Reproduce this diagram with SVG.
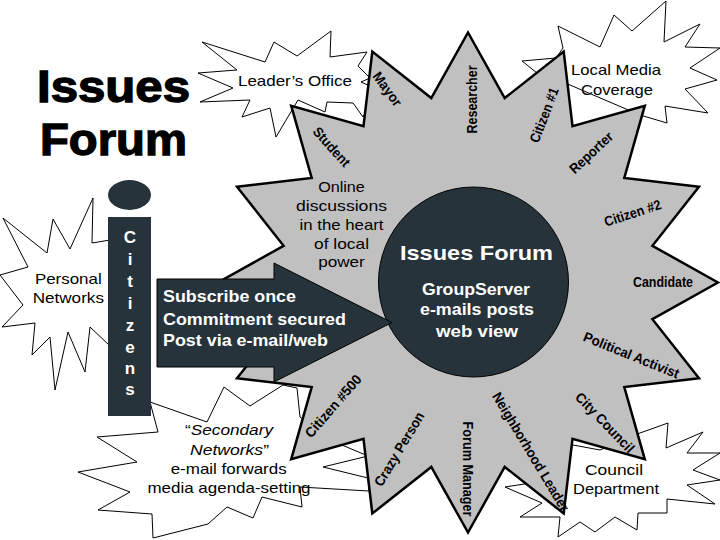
<svg xmlns="http://www.w3.org/2000/svg" width="720" height="540" viewBox="0 0 720 540">
<style>
.burst{fill:#fff;stroke:#000;stroke-width:1;stroke-linejoin:miter}
.star{fill:#c0c0c0;stroke:#000;stroke-width:2.5;stroke-linejoin:miter}
.dark{fill:#27333a;stroke:#000;stroke-width:1}
.t{font-family:"Liberation Sans",Arial,sans-serif;fill:#000}
.reg{font-size:15px;text-anchor:middle}
.lbl{font-size:14px;font-weight:bold;text-anchor:middle}
.wb{font-weight:bold;fill:#fff}
</style>
<rect width="720" height="540" fill="#fff"/>

<g id="title">
<text class="t" x="37" y="102" font-size="44" font-weight="bold" stroke="#000" stroke-width="1.3" textLength="153" lengthAdjust="spacingAndGlyphs">Issues</text>
<text class="t" x="40" y="155" font-size="44" font-weight="bold" stroke="#000" stroke-width="1.3" textLength="147" lengthAdjust="spacingAndGlyphs">Forum</text>
</g>

<g id="leaders-office">
<polygon class="burst" points="202,42 265,62 274,42 297,56 331,31 330,57 367,52 358,66 370,78 361,82 370,86 372,100 363,117 353,103 327,102 325,112 298,100 276,137 270,108 242,117 250,100 200,102 233,88 198,73 237,70"/>
<text class="t reg" x="295" y="86" textLength="114" lengthAdjust="spacingAndGlyphs">Leader’s Office</text>
</g>

<g id="local-media">
<polygon class="burst" points="558,26 600,47 614,15 632,31 666,1 664,42 700,24 685,47 720,48 690,68 717,80 685,89 708,113 665,106 667,123 640,115 570,85 537,73 522,61 556,58 563,48"/>
<text class="t reg" x="616" y="75" textLength="90" lengthAdjust="spacingAndGlyphs">Local Media</text>
<text class="t reg" x="617" y="94.5" textLength="72" lengthAdjust="spacingAndGlyphs">Coverage</text>
</g>

<g id="personal-networks">
<polygon class="burst" points="3,218 47,253 53,219 70,249 93,198 92,243 110,240 110,346 90,327 85,372 68,332 55,390 50,337 32,355 35,323 2,327 23,305 0,275 28,267"/>
<text class="t reg" x="68.3" y="284" textLength="66.7" lengthAdjust="spacingAndGlyphs">Personal</text>
<text class="t reg" x="68.3" y="303" textLength="71.3" lengthAdjust="spacingAndGlyphs">Networks</text>
</g>

<g id="secondary-networks">
<polygon class="burst" points="150,402 207,422 224,387 250,406 283,385 297,388 300,417 330,440 368,456 323,467 368,478 369,491 300,487 302,507 262,497 253,518 227,507 208,524 153,538 152,514 98,510 130,492 78,472 137,462 97,437 158,432"/>
</g>

<g id="council-department">
<polygon class="burst" points="640,433 668,423 666,448 703,432 687,453 720,453 693,470 720,480 687,485 715,504 667,499 667,513 638,513 637,530 615,517 595,532 580,522 558,537 560,517 520,517 542,503 505,487 550,480 573,445 600,450"/>
</g>

<g id="star">
<polygon class="star" points="468,32.5 504.7,98.1 563.7,51.5 572.5,126.2 644.8,105.7 624.3,178 699,186.8 652.4,245.8 718,282.5 652.4,319.2 699,378.2 624.3,387 644.8,459.3 572.5,438.8 563.7,513.5 504.7,466.9 468,532.5 431.3,466.9 372.3,513.5 363.5,438.8 291.2,459.3 311.7,387 237,378.2 283.6,319.2 218,282.5 283.6,245.8 237,186.8 311.7,178 291.2,105.7 363.5,126.2 372.3,51.5 431.3,98.1"/>
</g>

<g id="star-labels">
<text class="t lbl" transform="translate(331.7,146.7) rotate(48)" y="5" textLength="48" lengthAdjust="spacingAndGlyphs">Student</text>
<text class="t lbl" transform="translate(387.5,89) rotate(54)" y="5" textLength="39" lengthAdjust="spacingAndGlyphs">Mayor</text>
<text class="t lbl" transform="translate(471.5,99.5) rotate(-90)" y="5" textLength="68" lengthAdjust="spacingAndGlyphs">Researcher</text>
<text class="t lbl" transform="translate(544,115) rotate(-69)" y="5" textLength="58" lengthAdjust="spacingAndGlyphs">Citizen #1</text>
<text class="t lbl" transform="translate(591,152.5) rotate(-43)" y="5" textLength="54" lengthAdjust="spacingAndGlyphs">Reporter</text>
<text class="t lbl" transform="translate(632.5,213) rotate(-18)" y="5" textLength="59" lengthAdjust="spacingAndGlyphs">Citizen #2</text>
<text class="t lbl" x="663" y="287" textLength="60" lengthAdjust="spacingAndGlyphs">Candidate</text>
<text class="t lbl" transform="translate(631.5,355) rotate(22)" y="5" textLength="102" lengthAdjust="spacingAndGlyphs">Political Activist</text>
<text class="t lbl" transform="translate(605,422.5) rotate(46)" y="5" textLength="78" lengthAdjust="spacingAndGlyphs">City Council</text>
<text class="t lbl" transform="translate(531,451.7) rotate(59)" y="5" textLength="136" lengthAdjust="spacingAndGlyphs">Neighborhood Leader</text>
<text class="t lbl" transform="translate(467.5,469) rotate(90)" y="5" textLength="95" lengthAdjust="spacingAndGlyphs">Forum Manager</text>
<text class="t lbl" transform="translate(399,449) rotate(-59)" y="5" textLength="84" lengthAdjust="spacingAndGlyphs">Crazy Person</text>
<text class="t lbl" transform="translate(333,406) rotate(-49)" y="5" textLength="78" lengthAdjust="spacingAndGlyphs">Citizen #500</text>
</g>

<g id="online-discussions">
<text class="t reg" x="341.5" y="191.7" textLength="46.7" lengthAdjust="spacingAndGlyphs">Online</text>
<text class="t reg" x="341.5" y="210.7" textLength="91" lengthAdjust="spacingAndGlyphs">discussions</text>
<text class="t reg" x="341.5" y="230" textLength="84" lengthAdjust="spacingAndGlyphs">in the heart</text>
<text class="t reg" x="341.5" y="249.3" textLength="55" lengthAdjust="spacingAndGlyphs">of local</text>
<text class="t reg" x="341.5" y="267" textLength="46.7" lengthAdjust="spacingAndGlyphs">power</text>
</g>

<g id="issues-forum">
<circle class="dark" cx="473.5" cy="282" r="95"/>
<text class="t wb" x="476.5" y="260" font-size="21" text-anchor="middle" textLength="153" lengthAdjust="spacingAndGlyphs">Issues Forum</text>
<text class="t wb" x="476" y="294.5" font-size="16" text-anchor="middle" textLength="108" lengthAdjust="spacingAndGlyphs">GroupServer</text>
<text class="t wb" x="477" y="315" font-size="16" text-anchor="middle" textLength="114" lengthAdjust="spacingAndGlyphs">e-mails posts</text>
<text class="t wb" x="477" y="336.5" font-size="16" text-anchor="middle" textLength="82" lengthAdjust="spacingAndGlyphs">web view</text>
</g>

<g id="connectors">
<polygon class="dark" points="157,279 274,279 274,263 392,322.5 274,382 274,367 157,367"/>
<text class="t wb" x="163" y="302" font-size="17" textLength="133" lengthAdjust="spacingAndGlyphs">Subscribe once</text>
<text class="t wb" x="163" y="325" font-size="17" textLength="183" lengthAdjust="spacingAndGlyphs">Commitment secured</text>
<text class="t wb" x="163" y="346" font-size="17" textLength="165" lengthAdjust="spacingAndGlyphs">Post via e-mail/web</text>
</g>

<g id="citizens">
<ellipse cx="129.5" cy="195" rx="21.5" ry="15" fill="#27333a"/>
<rect x="108" y="217" width="43" height="199" fill="#27333a"/>
<g class="t wb" font-size="17" text-anchor="middle">
<text x="130" y="243">C</text>
<text x="130" y="265">i</text>
<text x="130" y="287">t</text>
<text x="130" y="309">i</text>
<text x="130" y="331">z</text>
<text x="130" y="353">e</text>
<text x="130" y="374">n</text>
<text x="130" y="395">s</text>
</g>
</g>

<g id="secondary-text">
<text class="t reg" x="229" y="435" textLength="88" lengthAdjust="spacingAndGlyphs">“<tspan font-style="italic">Secondary</tspan></text>
<text class="t reg" x="229.5" y="454.5" textLength="79" lengthAdjust="spacingAndGlyphs"><tspan font-style="italic">Networks</tspan>”</text>
<text class="t reg" x="228.7" y="473.5" textLength="116" lengthAdjust="spacingAndGlyphs">e-mail forwards</text>
<text class="t reg" x="229" y="492.5" textLength="163" lengthAdjust="spacingAndGlyphs">media agenda-setting</text>
</g>

<g id="council-text">
<text class="t reg" x="614" y="475" textLength="58" lengthAdjust="spacingAndGlyphs">Council</text>
<text class="t reg" x="616" y="493.5" textLength="86" lengthAdjust="spacingAndGlyphs">Department</text>
</g>
</svg>
